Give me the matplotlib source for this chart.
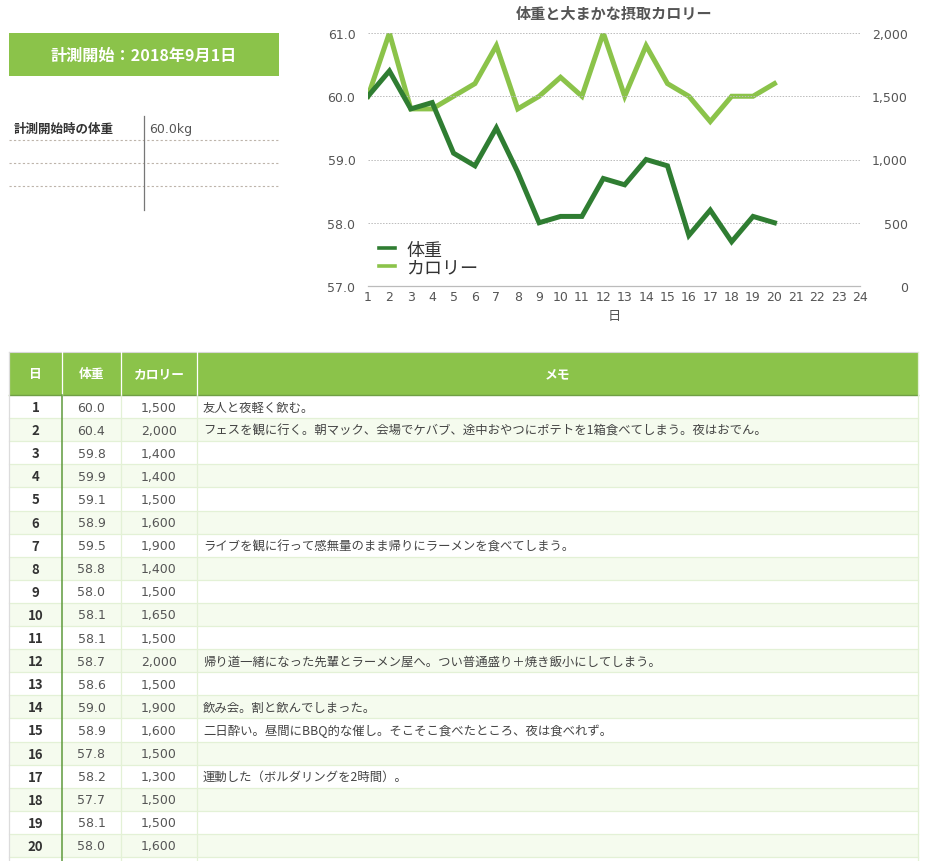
import matplotlib
matplotlib.use("Agg")
import matplotlib.pyplot as plt
from matplotlib.patches import Rectangle
from matplotlib.lines import Line2D
from matplotlib.ticker import FuncFormatter

plt.rcParams['font.family'] = ['Noto Sans CJK JP', 'DejaVu Sans']
NUMFONT = ['DejaVu Sans', 'Noto Sans CJK JP']

# ---------------- data ----------------
days = list(range(1, 21))
weight = [60.0, 60.4, 59.8, 59.9, 59.1, 58.9, 59.5, 58.8, 58.0, 58.1,
          58.1, 58.7, 58.6, 59.0, 58.9, 57.8, 58.2, 57.7, 58.1, 58.0]
calorie = [1500, 2000, 1400, 1400, 1500, 1600, 1900, 1400, 1500, 1650,
           1500, 2000, 1500, 1900, 1600, 1500, 1300, 1500, 1500, 1600]
memos = {
    1: "友人と夜軽く飲む。",
    2: "フェスを観に行く。朝マック、会場でケバブ、途中おやつにポテトを1箱食べてしまう。夜はおでん。",
    7: "ライブを観に行って感無量のまま帰りにラーメンを食べてしまう。",
    12: "帰り道一緒になった先輩とラーメン屋へ。つい普通盛り＋焼き飯小にしてしまう。",
    14: "飲み会。割と飲んでしまった。",
    15: "二日酔い。昼間にBBQ的な催し。そこそこ食べたところ、夜は食べれず。",
    17: "運動した（ボルダリングを2時間）。",
}
x_ticks = list(range(1, 25))
weight_ticks = [57.0, 58.0, 59.0, 60.0, 61.0]
cal_ticks = [0, 500, 1000, 1500, 2000]
headers = ["日", "体重", "カロリー", "メモ"]
start_title = "計測開始：2018年9月1日"
info_label = "計測開始時の体重"
info_value = "60.0kg"
chart_title = "体重と大まかな摂取カロリー"

GREEN = "#8bc34a"
DARK = "#2f7d32"
W, H = 936, 862

fig = plt.figure(figsize=(W / 100, H / 100), dpi=100)
bg = fig.add_axes([0, 0, 1, 1])
bg.set_xlim(0, W)
bg.set_ylim(H, 0)
bg.axis('off')

# ---------------- header box ----------------
bg.add_patch(Rectangle((9, 34), 270, 43, color=GREEN, lw=0))
bg.text(144, 55.5, start_title, color='white', fontsize=11.6, fontweight='bold',
        ha='center', va='center')

# ---------------- info table ----------------
for yy in [141, 164, 187]:
    bg.plot([9, 278], [yy, yy], color='#bdb4aa', lw=0.8, ls=(0, (2, 2)))
bg.plot([144, 144], [117, 211], color='#777777', lw=0.9)
bg.text(14, 129.5, info_label, fontsize=9, color='#333333', fontweight='bold',
        ha='left', va='center')
bg.text(149, 129.5, info_value, fontsize=9, color='#555555', ha='left', va='center',
        family=NUMFONT)

# ---------------- main table ----------------
tl, tr = 9, 918
cols = [9, 62, 121, 197, 918]
top, hdr_b = 353, 396
rh = 23.1
bg.add_patch(Rectangle((tl, top), tr - tl, hdr_b - top, color=GREEN, lw=0))
bg.plot([tl, tr], [top, top], color='#d8d8d8', lw=0.8)
bg.plot([tl, tr], [hdr_b, hdr_b], color='#6f9f45', lw=1.0)
for c in cols[1:4]:
    bg.plot([c, c], [top, hdr_b], color='white', lw=0.9)
centers = [(cols[i] + cols[i + 1]) / 2 for i in range(4)]
for i, h in enumerate(headers):
    bg.text(centers[i], (top + hdr_b) / 2, h, color='white', fontsize=9.2,
            fontweight='bold', ha='center', va='center')

for i, d in enumerate(days):
    y0 = hdr_b + i * rh
    if d % 2 == 0:
        bg.add_patch(Rectangle((tl, y0), tr - tl, rh, color='#f5fbee', lw=0))
    bg.plot([tl, tr], [y0 + rh, y0 + rh], color='#e3f1d6', lw=0.9)
    yc = y0 + rh / 2 + 0.5
    bg.text(centers[0], yc, str(d), fontsize=9.5, fontweight='bold', color='#333333',
            ha='center', va='center')
    bg.text(centers[1], yc, f"{weight[i]:.1f}", fontsize=9, color='#555555',
            ha='center', va='center', family=NUMFONT)
    bg.text(centers[2], yc, f"{calorie[i]:,}", fontsize=9, color='#555555',
            ha='center', va='center', family=NUMFONT)
    if d in memos:
        bg.text(203, yc, memos[d], fontsize=8.9, color='#444444',
                ha='left', va='center')

bg.plot([tl, tl], [top, H], color='#dcdcdc', lw=0.9)
bg.plot([tr, tr], [top, H], color='#e3f1d6', lw=0.9)
bg.plot([121, 121], [hdr_b, H], color='#e3f1d6', lw=0.9)
bg.plot([197, 197], [hdr_b, H], color='#e3f1d6', lw=0.9)
bg.plot([62, 62], [hdr_b, H], color='#5e9a3c', lw=1.1)

# ---------------- chart ----------------
axL, axR, axT, axB = 368, 860, 34, 287
ax = fig.add_axes([axL / W, 1 - axB / H, (axR - axL) / W, (axB - axT) / H])
ax2 = ax.twinx()
ax.set_zorder(ax2.get_zorder() + 1)
ax.patch.set_visible(False)

ax2.plot(days, calorie, color=GREEN, lw=3.6, solid_joinstyle='miter')
ax.plot(days, weight, color=DARK, lw=3.6, solid_joinstyle='miter')

ax.set_xlim(1, 24)
ax.set_ylim(57, 61)
ax2.set_ylim(0, 2000)
ax.set_xticks(x_ticks)
ax.set_yticks(weight_ticks)
ax2.set_yticks(cal_ticks)
ax.yaxis.set_major_formatter(FuncFormatter(lambda v, p: f"{v:.1f}"))
ax2.yaxis.set_major_formatter(FuncFormatter(lambda v, p: f"{v:,.0f}"))
ax.grid(axis='y', color='#bbbbbb', lw=0.7, ls=(0, (1.5, 1.5)))
for a in (ax, ax2):
    for s in a.spines.values():
        s.set_visible(False)
ax.spines['bottom'].set_visible(True)
ax.spines['bottom'].set_color('#bbbbbb')
ax.spines['bottom'].set_linewidth(0.9)
ax.tick_params(axis='both', length=0, labelsize=9, labelcolor='#555555')
ax.tick_params(axis='x', pad=3)
ax.tick_params(axis='y', pad=9)
ax2.tick_params(axis='y', length=0, labelsize=9, labelcolor='#555555', pad=34.5)
for lab in ax.get_xticklabels() + ax.get_yticklabels() + ax2.get_yticklabels():
    lab.set_family(NUMFONT)
for lab in ax2.get_yticklabels():
    lab.set_horizontalalignment('right')
ax.set_xlabel("日", fontsize=9.5, color='#555555', labelpad=4)
ax.set_title(chart_title, fontsize=10.9, fontweight='bold', color='#555555', pad=11)

handles = [Line2D([], [], color=DARK, lw=2.6), Line2D([], [], color=GREEN, lw=2.6)]
ax.legend(handles, ["体重", "カロリー"], loc='upper left', bbox_to_anchor=(0.005, 0.215),
          frameon=False, fontsize=13, handlelength=0.88, handletextpad=0.6,
          labelspacing=0.0, borderpad=0, labelcolor='#333333')

fig.savefig("out.png", dpi=100)
